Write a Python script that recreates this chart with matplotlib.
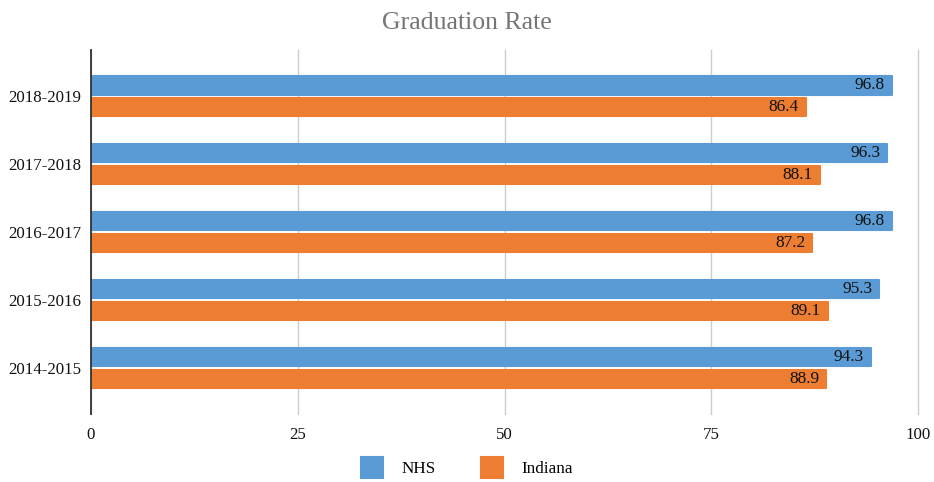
import numpy as np
import matplotlib.pyplot as plt

# ── Data ───────────────────────────────────────────────────
years   = ['2014-2015', '2015-2016', '2016-2017', '2017-2018', '2018-2019']
nhs     = [94.3, 95.3, 96.8, 96.3, 96.8]
indiana = [88.9, 89.1, 87.2, 88.1, 86.4]

blue   = '#5b9bd5'
orange = '#ed7d31'

plt.rcParams['font.family'] = ['Liberation Serif', 'DejaVu Serif']

fig = plt.figure(figsize=(9.34, 4.82), dpi=100)
ax = fig.add_axes([0.0974, 0.141, 0.8855, 0.755])

y = np.arange(len(years))
h = 0.27

# edge in the face colour with round joins gives the soft corners
kw = dict(height=h, linewidth=1.5, joinstyle='round', zorder=3)
b1 = ax.barh(y + 0.16, nhs, color=blue, edgecolor=blue, label='NHS', **kw)
b2 = ax.barh(y - 0.16, indiana, color=orange, edgecolor=orange, label='Indiana', **kw)

for bars, vals in [(b1, nhs), (b2, indiana)]:
    for bar, v in zip(bars, vals):
        ax.annotate(f'{v:.1f}', (v, bar.get_y() + bar.get_height() / 2),
                    xytext=(-5, 0), textcoords='offset points',
                    ha='right', va='center', fontsize=12.5, color='#111111', zorder=4)

ax.set_xlim(0, 100)
ax.set_ylim(-0.68, 4.68)
ax.set_xticks([0, 25, 50, 75, 100])
ax.set_yticks(y)
ax.set_yticklabels(years)
ax.tick_params(length=0, labelsize=12.2, colors='#111111')
ax.tick_params(axis='x', pad=9)
ax.tick_params(axis='y', pad=7)

ax.grid(axis='x', color='#cccccc', linewidth=1, zorder=0)
for gl in ax.get_xgridlines():
    gl.set_clip_on(False)  # keep the line at 100 whole
for s in ['top', 'right', 'bottom']:
    ax.spines[s].set_visible(False)
ax.spines['left'].set_color('#333333')
ax.spines['left'].set_linewidth(1.3)
ax.spines['left'].set_zorder(5)

fig.suptitle('Graduation Rate', y=0.975, fontsize=18.5, color='#757575')

fig.legend(handles=[b1, b2], loc='lower center', bbox_to_anchor=(0.5, -0.024),
           ncol=2, frameon=False, fontsize=12.3, handlelength=1.3,
           handleheight=1.5, columnspacing=2.6, handletextpad=1.1)

fig.savefig('out.png', dpi=100)
